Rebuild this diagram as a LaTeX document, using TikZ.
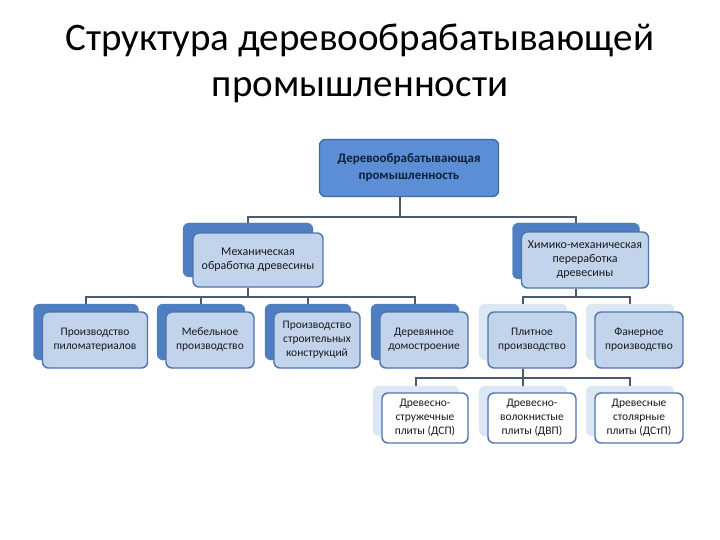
\documentclass[tikz,border=0pt]{standalone}
\usepackage{fontspec}
\setmainfont{Carlito}
\usepackage{xcolor}
\usepackage{tikz}

\definecolor{topfill}{HTML}{5B8ED4}
\definecolor{topline}{HTML}{3E6AA8}
\definecolor{toptext}{HTML}{0F1F3F}
\definecolor{darktab}{HTML}{4F7FC2}
\definecolor{lightfill}{HTML}{C2D4EC}
\definecolor{boxline}{HTML}{4D74AC}
\definecolor{paletab}{HTML}{DDE7F4}
\definecolor{conncol}{HTML}{4A5A70}

\begin{document}
\begin{tikzpicture}[x=1pt, y=-1pt,
    box/.style={draw=boxline, line width=1.4pt, rounded corners=6pt, align=center,
        inner sep=2pt, text=black!90, font=\fontsize{11.5}{14}\selectfont},
    tab/.style={fill=#1, draw=#1, rounded corners=6pt},
    conn/.style={draw=conncol, line width=1.4pt}]
    \useasboundingbox[fill=white] (0,0) rectangle (720,540);

    % Title
    \node[align=center, font=\fontsize{39}{46}\selectfont] (title) at (360,63)
        {Структура деревообрабатывающей\\промышленности};

    % Top level
    \node[box, draw=topline, fill=topfill, minimum width=179pt, minimum height=57pt,
        text=toptext, font=\bfseries\fontsize{13}{17}\selectfont] (top) at (409,168)
        {Деревообрабатывающая\\промышленность};

    % Second level
    \node[tab=darktab, minimum width=130pt, minimum height=54pt] (mechB) at (248,250) {};
    \node[box, fill=lightfill, minimum width=130pt, minimum height=54pt,
        font=\fontsize{12}{14}\selectfont] (mech) at (258,260)
        {Механическая\\обработка древесины};
    \node[tab=darktab, minimum width=127pt, minimum height=56pt] (chemB) at (576,251) {};
    \node[box, fill=lightfill, minimum width=127pt, minimum height=56pt,
        font=\fontsize{12}{14}\selectfont] (chem) at (585,260)
        {Химико-механическая\\переработка\\древесины};

    % Third level, mechanical
    \node[tab=darktab, minimum width=105pt, minimum height=56pt] (piloB) at (86,332) {};
    \node[box, fill=lightfill, minimum width=105pt, minimum height=56pt] (pilo) at (95,340)
        {Производство\\пиломатериалов};
    \node[tab=darktab, minimum width=88pt, minimum height=56pt] (mebelB) at (201,332) {};
    \node[box, fill=lightfill, minimum width=88pt, minimum height=56pt] (mebel) at (210,340)
        {Мебельное\\производство};
    \node[tab=darktab, minimum width=86pt, minimum height=56pt] (stroiB) at (308,332) {};
    \node[box, fill=lightfill, minimum width=86pt, minimum height=56pt] (stroi) at (317,340)
        {Производство\\строительных\\конструкций};
    \node[tab=darktab, minimum width=88pt, minimum height=56pt] (domoB) at (415,332) {};
    \node[box, fill=lightfill, minimum width=88pt, minimum height=56pt] (domo) at (424,340)
        {Деревянное\\домостроение};

    % Third level, chemical
    \node[tab=paletab, minimum width=88pt, minimum height=56pt] (plitB) at (523,332) {};
    \node[box, fill=lightfill, minimum width=88pt, minimum height=56pt] (plit) at (532,340)
        {Плитное\\производство};
    \node[tab=paletab, minimum width=88pt, minimum height=56pt] (fanerB) at (630,332) {};
    \node[box, fill=lightfill, minimum width=88pt, minimum height=56pt] (faner) at (639,340)
        {Фанерное\\производство};

    % Fourth level
    \node[tab=paletab, minimum width=86pt, minimum height=50pt] (dspB) at (416,411) {};
    \node[box, fill=white, minimum width=86pt, minimum height=50pt] (dsp) at (425,418)
        {Древесно-\\стружечные\\плиты (ДСП)};
    \node[tab=paletab, minimum width=88pt, minimum height=50pt] (dvpB) at (523,411) {};
    \node[box, fill=white, minimum width=88pt, minimum height=50pt] (dvp) at (532,418)
        {Древесно-\\волокнистые\\плиты (ДВП)};
    \node[tab=paletab, minimum width=88pt, minimum height=50pt] (dstpB) at (630,411) {};
    \node[box, fill=white, minimum width=88pt, minimum height=50pt] (dstp) at (639,418)
        {Древесные\\столярные\\плиты (ДСтП)};

    % Buses
    \coordinate (busA) at (0,217);
    \coordinate (busB) at (0,297);
    \coordinate (busC) at (0,378);
    \coordinate (topfoot) at ([xshift=-9pt]top.south);

    % Connectors
    \draw[conn] (topfoot) -- (topfoot |- busA) -| (mechB.north);
    \draw[conn] (topfoot |- busA) -| (chemB.north);
    \foreach \n in {piloB, mebelB, stroiB, domoB}
        \draw[conn] (mechB |- mech.south) -- (mechB |- busB) -| (\n.north);
    \foreach \n in {plitB, fanerB}
        \draw[conn] (chemB |- chem.south) -- (chemB |- busB) -| (\n.north);
    \foreach \n in {dspB, dvpB, dstpB}
        \draw[conn] (plitB |- plit.south) -- (plitB |- busC) -| (\n.north);
\end{tikzpicture}
\end{document}
